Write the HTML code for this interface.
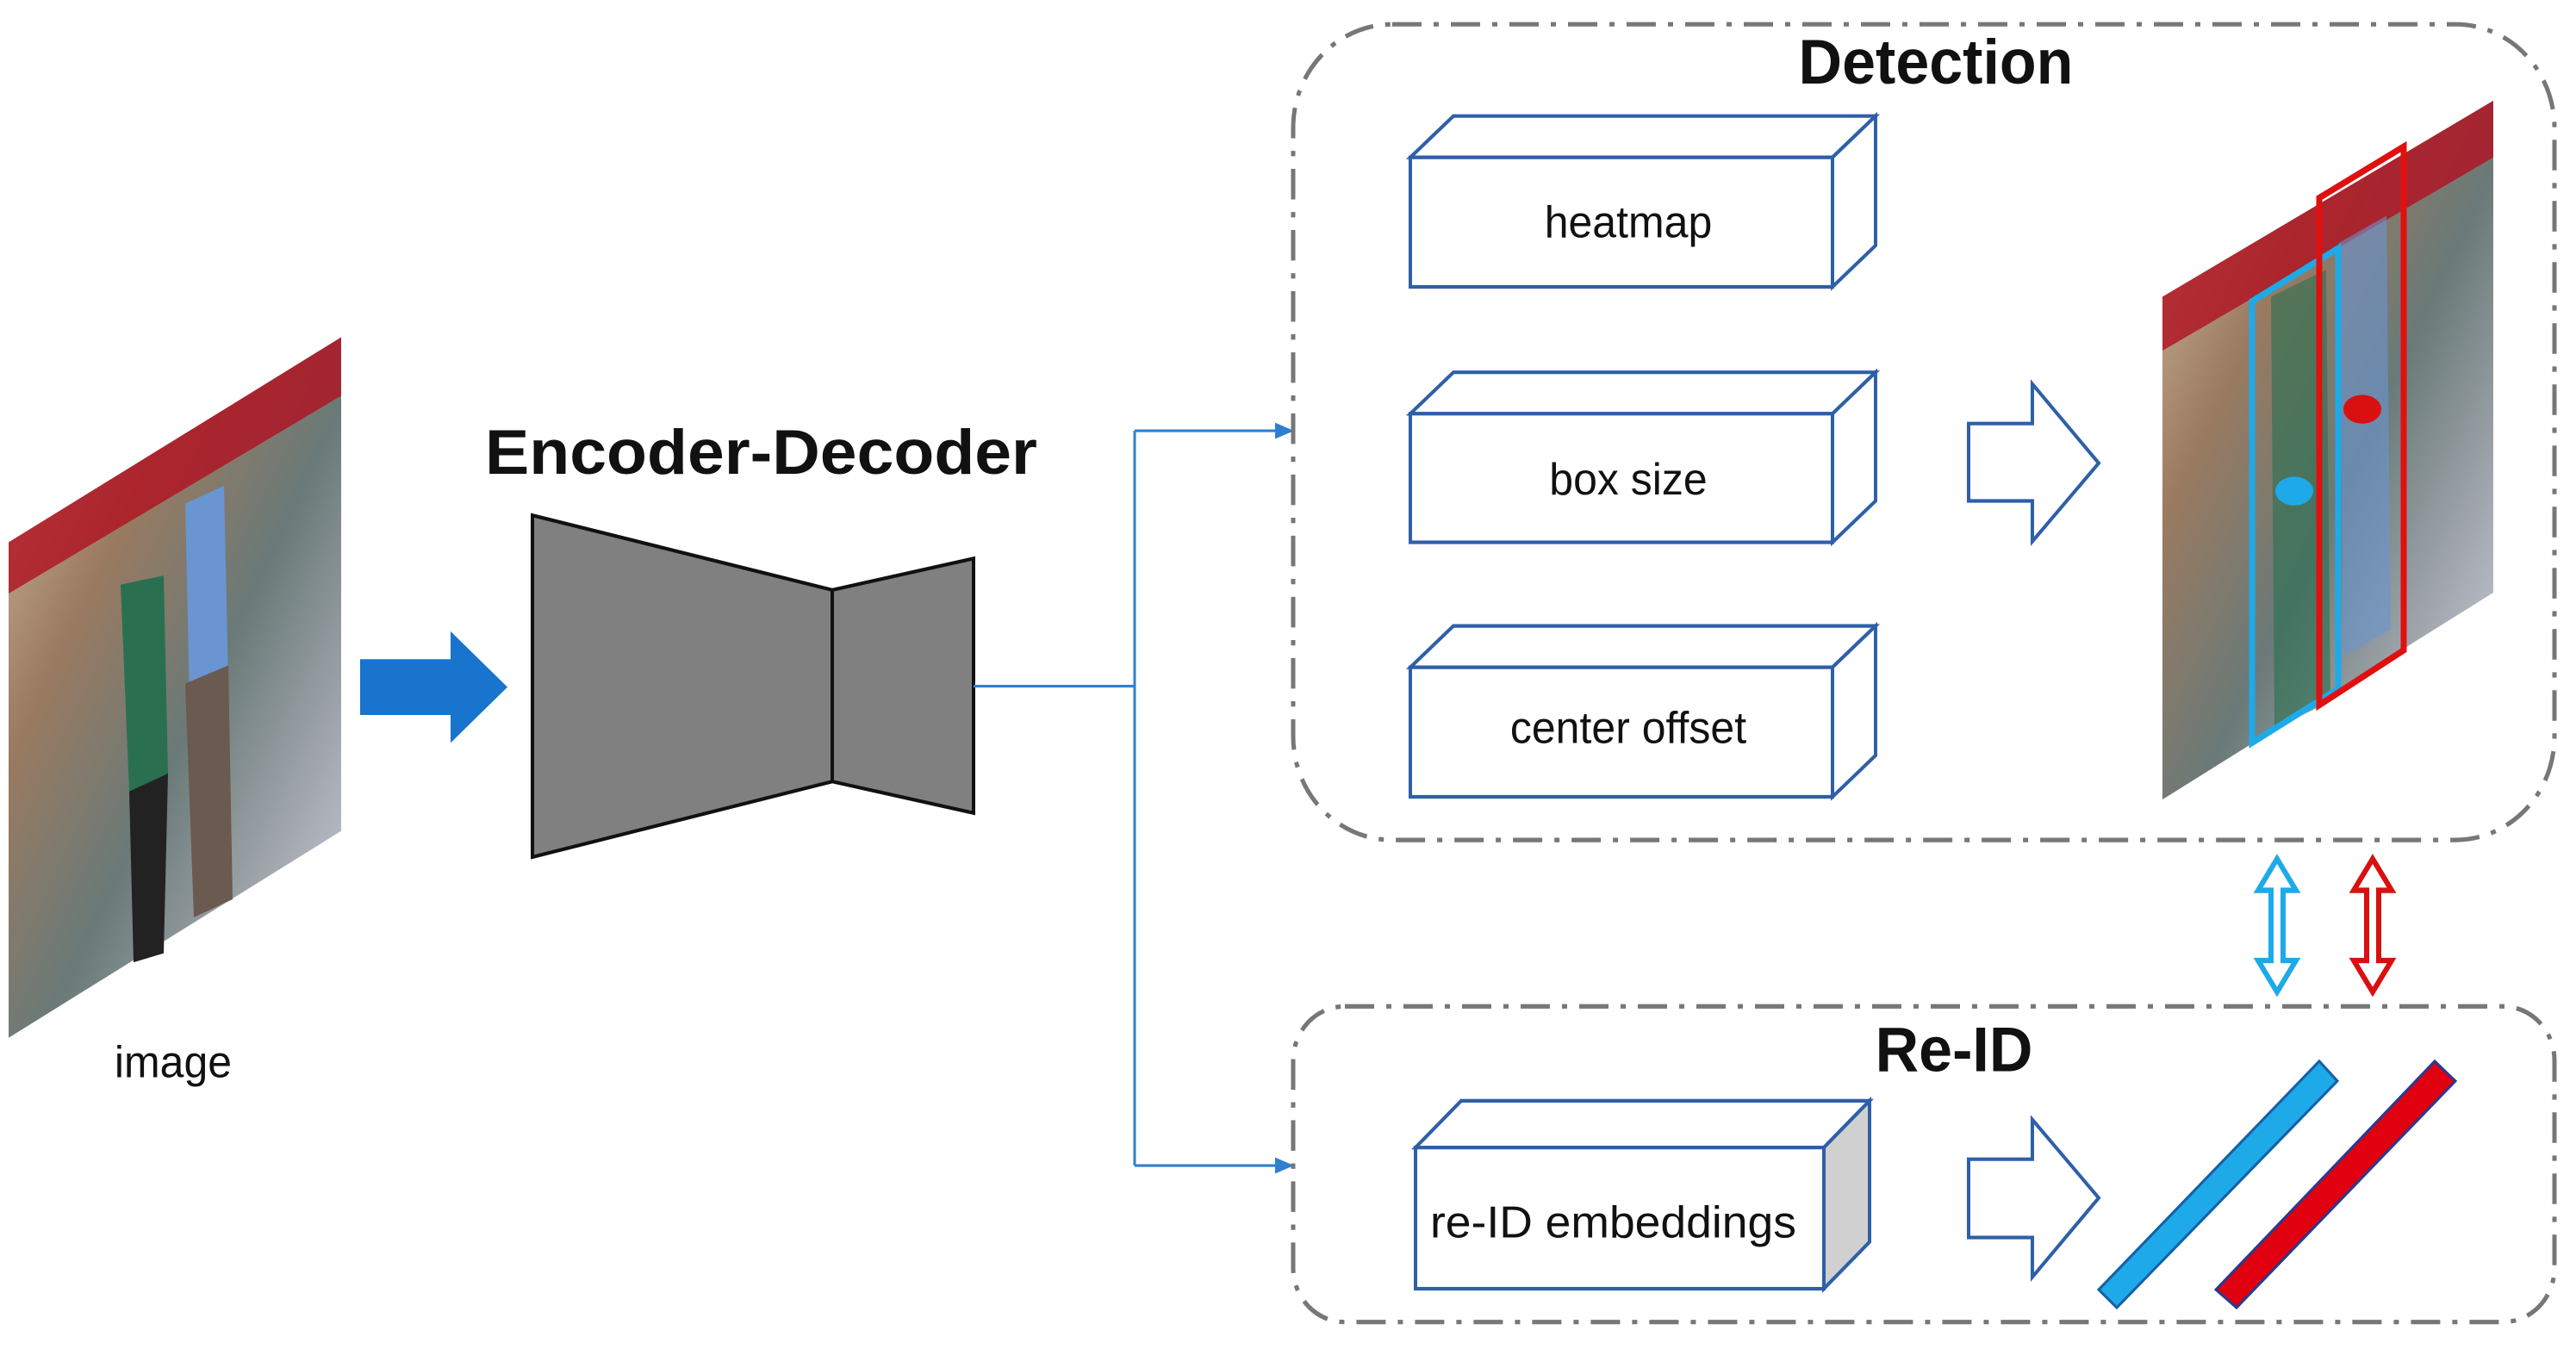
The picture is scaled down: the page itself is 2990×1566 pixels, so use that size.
<!DOCTYPE html>
<html><head><meta charset="utf-8"><style>body{margin:0;background:#fff}svg{display:block}</style></head><body>
<svg width="2990" height="1566" viewBox="0 0 2990 1566" xmlns="http://www.w3.org/2000/svg" font-family="Liberation Sans, sans-serif">
<defs>
<linearGradient id="ph" x1="0" y1="0" x2="1" y2="1">
<stop offset="0" stop-color="#d8c0a8"/><stop offset="0.3" stop-color="#9a7a60"/><stop offset="0.55" stop-color="#6a7a78"/><stop offset="0.8" stop-color="#a8acb4"/><stop offset="1" stop-color="#d0d4dc"/>
</linearGradient>
</defs>
<g transform="scale(1,1.044)">
<!-- left photo -->
<polygon points="10,603 396,375 396,924 10,1154" fill="url(#ph)"/>
<polygon points="10,603 396,375 396,440 10,660" fill="#b01020" opacity="0.8"/>
<polygon points="215,560 260,540 265,760 220,780" fill="#6a95d0"/>
<polygon points="140,650 190,640 195,860 150,880" fill="#2a7050"/>
<polygon points="215,760 265,740 270,1000 225,1020" fill="#6a5a50"/>
<polygon points="150,880 195,860 190,1060 155,1070" fill="#222"/>
<text x="201" y="1198" font-size="50" text-anchor="middle" fill="#111">image</text>
<!-- blue arrow -->
<polygon points="418,733 523,733 523,702 589,764 523,826 523,795 418,795" fill="#1874cd"/>
<!-- Encoder-Decoder -->
<text x="563" y="527" font-size="70" font-weight="bold" fill="#111" textLength="641" lengthAdjust="spacingAndGlyphs">Encoder-Decoder</text>
<polygon points="618,573 966,656 966,869 618,953" fill="#808080" stroke="#111" stroke-width="4"/>
<polygon points="966,656 1130,621 1130,904 966,869" fill="#808080" stroke="#111" stroke-width="4"/>
<!-- connectors -->
<path d="M1130,763 H1317 M1317,479 V1296 M1317,479 H1498 M1317,1296 H1498" stroke="#2f7fd0" stroke-width="3" fill="none"/>
<polygon points="1480,470 1502,479 1480,488" fill="#2f7fd0"/>
<polygon points="1480,1287 1502,1296 1480,1305" fill="#2f7fd0"/>
<!-- Detection box -->
<rect x="1501" y="27" width="1464" height="907" rx="115" fill="none" stroke="#777" stroke-width="5" stroke-dasharray="34,14,6,14"/>
<text x="2247" y="93" font-size="70" font-weight="bold" text-anchor="middle" fill="#111">Detection</text>
<g fill="#fff" stroke="#2f5fa8" stroke-width="4">
<polygon points="1637,175 1687,129 2177,129 2127,175"/><polygon points="2127,175 2177,129 2177,273 2127,319"/><rect x="1637" y="175" width="490" height="144"/>
<polygon points="1637,460 1687,414 2177,414 2127,460"/><polygon points="2127,460 2177,414 2177,557 2127,603"/><rect x="1637" y="460" width="490" height="143"/>
<polygon points="1637,742 1687,696 2177,696 2127,742"/><polygon points="2127,742 2177,696 2177,840 2127,886"/><rect x="1637" y="742" width="490" height="144"/>
<polygon points="2285,471 2359,471 2359,427 2436,515 2359,602 2359,557 2285,557"/>
<polygon points="2285,1289 2359,1289 2359,1245 2436,1332 2359,1420 2359,1376 2285,1376"/>
</g>
<g font-size="50" fill="#111" text-anchor="middle">
<text x="1890" y="264">heatmap</text><text x="1890" y="550">box size</text><text x="1890" y="826">center offset</text>
</g>
<!-- detection photo -->
<polygon points="2510,330 2894,112 2894,659 2510,889" fill="url(#ph)"/>
<polygon points="2510,330 2894,112 2894,175 2510,390" fill="#b01020" opacity="0.8"/>
<polygon points="2636,330 2700,300 2705,780 2640,810" fill="#2a7050" opacity="0.6"/>
<polygon points="2715,270 2770,240 2775,700 2720,730" fill="#6a95d0" opacity="0.6"/>
<polygon points="2614,335 2714,276 2714,766 2614,826" fill="none" stroke="#1eaae8" stroke-width="7"/>
<polygon points="2692,220 2790,163 2790,723 2692,784" fill="none" stroke="#e01010" stroke-width="7"/>
<ellipse cx="2742" cy="455" rx="22" ry="16" fill="#d81010"/>
<ellipse cx="2663" cy="546" rx="22" ry="16" fill="#1eaae8"/>
<!-- double arrows -->
<polygon points="2643,955 2665,990 2650,990 2650,1068 2665,1068 2643,1103 2621,1068 2636,1068 2636,990 2621,990" fill="#fff" stroke="#1eaae8" stroke-width="6"/>
<polygon points="2754,955 2776,990 2761,990 2761,1068 2776,1068 2754,1103 2732,1068 2747,1068 2747,990 2732,990" fill="#fff" stroke="#d81010" stroke-width="6"/>
<!-- Re-ID box -->
<rect x="1501" y="1119" width="1464" height="351" rx="60" fill="none" stroke="#777" stroke-width="5" stroke-dasharray="34,14,6,14"/>
<text x="2268" y="1191" font-size="70" font-weight="bold" text-anchor="middle" fill="#111">Re-ID</text>
<g stroke="#2f5fa8" stroke-width="4">
<polygon points="1643,1276 1696,1224 2170,1224 2117,1276" fill="#fff"/>
<polygon points="2117,1276 2170,1224 2170,1381 2117,1433" fill="#d0d0d0"/>
<rect x="1643" y="1276" width="474" height="157" fill="#fff"/>
</g>
<text x="1660" y="1376" font-size="50" fill="#111" textLength="425" lengthAdjust="spacingAndGlyphs">re-ID embeddings</text>
<!-- bars -->
<polygon points="2436,1434 2457,1454 2713,1202 2692,1180" fill="#1eaae8" stroke="#1560a8" stroke-width="3"/>
<polygon points="2572,1434 2596,1454 2850,1202 2826,1180" fill="#e00010" stroke="#2a3a90" stroke-width="3"/>
</g>
</svg>
</body></html>
